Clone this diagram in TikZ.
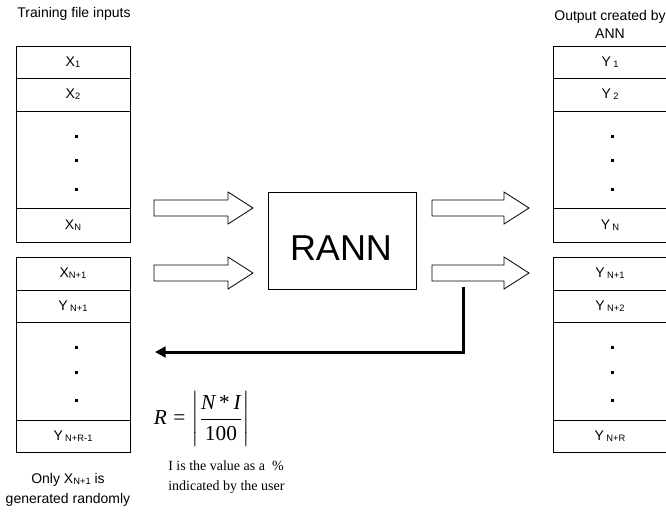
\documentclass[tikz,border=0pt]{standalone}
\usepackage{amsmath}
\usepackage{fontspec}
\setmainfont{Liberation Sans}
\newfontfamily\timesf{Liberation Serif}
\usetikzlibrary{arrows.meta}
\newcommand\sbs[1]{\raisebox{-0.9pt}{\fontsize{7}{8}\selectfont #1}}
\newcommand\blockarr[5]{%
  \draw[blk] (#2,#5-8) -- (#3,#5-8) -- (#3,#5-16) -- (#4,#5) -- (#3,#5+16) -- (#3,#5+8) -- (#2,#5+8) -- cycle;
  \coordinate (#1) at (#4,#5);}
\begin{document}
\begin{tikzpicture}[x=0.75pt,y=-0.75pt,
  cell/.style={draw, line width=0.6pt, minimum width=85.5pt, minimum height=#1*0.75pt,
    inner sep=0pt, outer sep=0pt, anchor=north west, font=\fontsize{10.5}{12}\selectfont},
  blk/.style={draw, line width=0.6pt, fill=white},
  lbl/.style={font=\fontsize{10.5}{15}\selectfont, inner sep=0pt, align=center},
  dotmark/.style={fill=black}]
\useasboundingbox (0,0) rectangle (666,511);
\fill[white] (0,0) rectangle (666,511);

% titles
\node[lbl] (t1) at (74,14) {Training file inputs};
\node[lbl, font=\fontsize{10.5}{13.5}\selectfont] (t2) at (610,24) {Output created by\\ANN};

% left box 1
\node[cell=32] (l1) at (16,46) {X\sbs{1}};
\node[cell=33] (l2) at (16,78) {X\sbs{2}};
\node[cell=97] (l3) at (16,111) {};
\node[cell=34] (l4) at (16,208) {X\sbs{N}};
% left box 2
\node[cell=33] (m1) at (16,257) {X\sbs{N+1}};
\node[cell=32] (m2) at (16,290) {Y\,\sbs{N+1}};
\node[cell=98] (m3) at (16,322) {};
\node[cell=32] (m4) at (16,420) {Y\,\sbs{N+R-1}};

% right box 1
\node[cell=32] (r1) at (553,46) {Y\,\sbs{1}};
\node[cell=33] (r2) at (553,78) {Y\,\sbs{2}};
\node[cell=97] (r3) at (553,111) {};
\node[cell=34] (r4) at (553,208) {Y\,\sbs{N}};
% right box 2
\node[cell=33] (s1) at (553,257) {Y\,\sbs{N+1}};
\node[cell=32] (s2) at (553,290) {Y\,\sbs{N+2}};
\node[cell=98] (s3) at (553,322) {};
\node[cell=32] (s4) at (553,420) {Y\,\sbs{N+R}};

% dots
\foreach \xx in {76,612}{
  \foreach \yy in {136,160,189,347,372,400}{
    \fill[dotmark] (\xx-1.5,\yy-1.5) rectangle (\xx+1.5,\yy+1.5);
  }}

% RANN
\node[draw, line width=0.6pt, minimum width=111pt, minimum height=72.75pt, inner sep=0pt] (rann) at (342,240.5) {};
\node[font=\fontsize{27}{30}\selectfont, inner sep=0pt, anchor=base] (rannt) at (341,260) {RANN};

% block arrows
\blockarr{a1}{154}{228}{253}{208}
\blockarr{a2}{154}{228}{253}{273}
\blockarr{a3}{432}{504}{529}{208}
\blockarr{a4}{432}{504}{529}{273}

% feedback arrow
\coordinate (fbs) at (463,287);
\coordinate (fbe) at (155,352);
\draw[line width=2.25pt, miter limit=10, -{Triangle[length=8pt,width=8pt]}] (fbs) |- (fbe);

% formula
\node[inner sep=0pt] (eq) at (202,419) {\fontsize{16}{18}\selectfont\timesf
  $\textit{R}\mathrel{\text{=}}\left|\dfrac{\textit{N}\,\text{*}\,\textit{I}}{\text{100}}\right|$};
\node[inner sep=0pt, anchor=west, align=left, font=\timesf\fontsize{10.5}{15}\selectfont] (note) at (168,477)
  {I is the value as a \ \%\\indicated by the user};

\node[lbl] (only) at (68,490) {Only X\sbs{N+1} is\\generated randomly};
\end{tikzpicture}
\end{document}
